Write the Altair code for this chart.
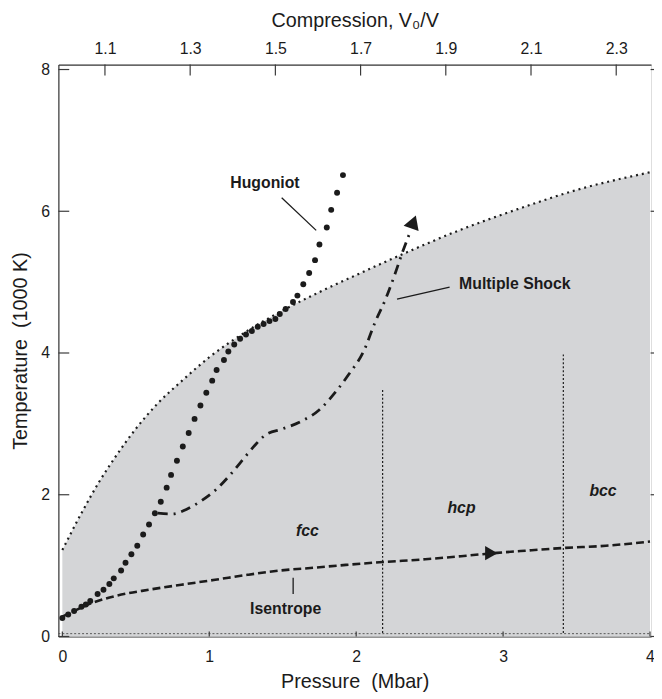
import altair as alt
import pandas as pd

# ---------------- data ----------------
melt_P = [0.0, 0.13, 0.25, 0.36, 0.50, 0.65, 0.81, 1.0, 1.25, 1.5, 1.75, 2.0, 2.3, 2.7, 3.1, 3.5, 4.0]
melt_T = [1.22, 1.74, 2.18, 2.53, 2.93, 3.29, 3.60, 3.94, 4.30, 4.60, 4.86, 5.10, 5.38, 5.73, 6.03, 6.30, 6.55]

hug_P = [0.00, 0.04, 0.08, 0.13, 0.16, 0.19, 0.24, 0.28, 0.32, 0.35, 0.40, 0.43, 0.47, 0.51,
         0.55, 0.59, 0.63, 0.67, 0.71, 0.74, 0.78, 0.82, 0.86, 0.90, 0.94, 0.98, 1.02, 1.05,
         1.10, 1.13, 1.17, 1.21, 1.25, 1.29, 1.33, 1.37, 1.41, 1.45, 1.48, 1.52, 1.57, 1.60,
         1.64, 1.68, 1.72, 1.75, 1.80, 1.83, 1.87, 1.91]
hug_T = [0.26, 0.31, 0.36, 0.42, 0.45, 0.50, 0.60, 0.66, 0.74, 0.82, 0.93, 1.04, 1.16, 1.28,
         1.44, 1.58, 1.74, 1.90, 2.10, 2.28, 2.48, 2.68, 2.87, 3.07, 3.26, 3.44, 3.61, 3.76,
         3.90, 4.02, 4.12, 4.20, 4.26, 4.31, 4.37, 4.41, 4.45, 4.48, 4.55, 4.62, 4.72, 4.81,
         4.97, 5.13, 5.31, 5.53, 5.77, 6.02, 6.26, 6.51]

ms_P = [0.65, 0.75, 0.85, 0.95, 1.05, 1.15, 1.25, 1.32, 1.38, 1.50, 1.62, 1.75, 1.86, 1.95,
        2.05, 2.13, 2.20, 2.26, 2.32, 2.37]
ms_T = [1.74, 1.73, 1.80, 1.92, 2.08, 2.30, 2.55, 2.72, 2.84, 2.93, 3.03, 3.20, 3.45, 3.70,
        4.02, 4.44, 4.76, 5.09, 5.45, 5.72]
ms_head_P = [2.39]
ms_head_T = [5.85]

isen_P = [0.0, 0.10, 0.20, 0.36, 0.59, 0.81, 1.04, 1.26, 1.48, 1.71, 1.93, 2.18, 2.47, 2.75,
          2.96, 3.15, 3.42, 3.70, 4.0]
isen_T = [0.28, 0.38, 0.47, 0.57, 0.66, 0.73, 0.80, 0.87, 0.93, 0.97, 1.01, 1.05, 1.09, 1.14,
          1.18, 1.21, 1.25, 1.28, 1.34]
isen_head_P = [2.92]
isen_head_T = [1.175]

phase_P = [2.18, 3.41]
phase_top = [3.48, 3.98]

label_text = ["Hugoniot", "Multiple Shock", "Isentrope"]
label_P = [1.379, 3.08, 1.52]
label_T = [6.40, 4.97, 0.385]

phase_text = ["fcc", "hcp", "bcc"]
phase_lab_P = [1.668, 2.717, 3.68]
phase_lab_T = [1.487, 1.81, 2.045]

lead_P1 = [1.493, 2.636, 1.571]
lead_T1 = [6.19, 4.93, 0.83]
lead_P2 = [1.728, 2.278, 1.571]
lead_T2 = [5.73, 4.76, 0.60]

P_ticks = [0, 1, 2, 3, 4]
T_ticks = [0, 2, 4, 6, 8]
comp_ticks = [1.1, 1.3, 1.5, 1.7, 1.9, 2.1, 2.3]

# ---------------- scales ----------------
P_DOM = [-0.027, 4.007]
T_DOM = [0, 8.07]
# compression axis: P = (c - 1) * 2.9
C_DOM = [1 + P_DOM[0] / 2.9, 1 + P_DOM[1] / 2.9]

FONT = "Liberation Sans"
INK = "#1b1b1b"
AX = "#3a3a3a"

xs = alt.Scale(domain=P_DOM, nice=False, zero=False)
ys = alt.Scale(domain=T_DOM, nice=False, zero=False)

X_AXIS = alt.Axis(
    orient="bottom", values=P_ticks, ticks=False, labelFont=FONT, labelFontSize=16,
    labelColor=INK, labelPadding=12, domainColor=AX, domainWidth=1.2,
    title="Pressure \u00a0(Mbar)", titleFont=FONT, titleFontSize=20, titleFontWeight="normal",
    titleColor=INK, titlePadding=8, grid=False)
Y_AXIS = alt.Axis(
    orient="left", values=T_ticks, ticks=False, labelFont=FONT, labelFontSize=16,
    labelColor=INK, labelPadding=9, domainColor=AX, domainWidth=1.2,
    title="Temperature \u00a0(1000 K)", titleFont=FONT, titleFontSize=20,
    titleFontWeight="normal", titleColor=INK, titlePadding=10, grid=False)


def X(f="P"):
    return alt.X(f"{f}:Q", scale=xs, axis=X_AXIS)


def Y(f="T"):
    return alt.Y(f"{f}:Q", scale=ys, axis=Y_AXIS)


melt = pd.DataFrame({"P": melt_P, "T": melt_T})
hug = pd.DataFrame({"P": hug_P, "T": hug_T})
ms = pd.DataFrame({"P": ms_P, "T": ms_T, "o": list(range(len(ms_P)))})
isen = pd.DataFrame({"P": isen_P, "T": isen_T, "o": list(range(len(isen_P)))})

area = alt.Chart(melt).mark_area(color="#d4d5d7", opacity=1, interpolate="monotone").encode(
    x=X(), y=Y(), y2=alt.datum(0))

melt_line = alt.Chart(melt).mark_line(color=INK, strokeWidth=2.2, strokeDash=[2, 4],
                                      interpolate="monotone").encode(x=X(), y=Y())

bottom_dotted = alt.Chart(pd.DataFrame({"P1": [P_DOM[0]], "P2": [P_DOM[1]], "T": [0.04]})).mark_rule(
    color="#555555", strokeWidth=1, strokeDash=[2, 2]).encode(
    x=X("P1"), x2="P2:Q", y=Y())

phase_lines = alt.Chart(pd.DataFrame({"P": phase_P, "T2": phase_top})).transform_calculate(
    y0="0.05").mark_rule(color=INK, strokeWidth=1.2, strokeDash=[2, 2]).encode(
    x=X(), y=Y("y0"), y2="T2:Q")

isen_line = alt.Chart(isen).mark_line(color=INK, strokeWidth=2.6, strokeDash=[8, 4],
                                      interpolate="monotone").encode(x=X(), y=Y(), order="o:Q")
isen_head = alt.Chart(pd.DataFrame({"P": isen_head_P, "T": isen_head_T})).mark_point(
    shape="triangle-right", filled=True, color=INK, opacity=1, size=210).encode(x=X(), y=Y())

ms_line = alt.Chart(ms).mark_line(color=INK, strokeWidth=2.8, strokeDash=[10, 6, 2, 6],
                                  interpolate="monotone").encode(x=X(), y=Y(), order="o:Q")
ms_head = alt.Chart(pd.DataFrame({"P": ms_head_P, "T": ms_head_T})).mark_point(
    shape="triangle-up", filled=True, color=INK, opacity=1, size=260, angle=20).encode(x=X(), y=Y())

hug_pts = alt.Chart(hug).mark_point(filled=True, color=INK, opacity=1, size=36, shape="circle").encode(
    x=X(), y=Y())

leaders = alt.Chart(pd.DataFrame({"P1": lead_P1, "T1": lead_T1, "P2": lead_P2, "T2": lead_T2})).mark_rule(
    color=INK, strokeWidth=1.3).encode(x=X("P1"), y=Y("T1"), x2="P2:Q", y2="T2:Q")

labels = alt.Chart(pd.DataFrame({"P": label_P, "T": label_T, "t": label_text})).mark_text(
    font=FONT, fontSize=16, fontWeight="bold", color=INK, align="center", baseline="middle").encode(
    x=X(), y=Y(), text="t:N")

phase_labels = alt.Chart(pd.DataFrame({"P": phase_lab_P, "T": phase_lab_T, "t": phase_text})).mark_text(
    font=FONT, fontSize=16, fontWeight="bold", fontStyle="italic", color=INK, align="center",
    baseline="middle").encode(x=X(), y=Y(), text="t:N")

# inward tick marks on left and bottom, outward on right
left_ticks = alt.Chart(pd.DataFrame({"T": T_ticks})).transform_calculate(
    a=str(P_DOM[0]), b=str(P_DOM[0] + 0.074)).mark_rule(color=AX, strokeWidth=1.2).encode(
    x=X("a"), x2="b:Q", y=Y())
bottom_ticks = alt.Chart(pd.DataFrame({"P": P_ticks})).transform_calculate(
    a="0", b="0.07").mark_rule(color=AX, strokeWidth=1.2).encode(
    x=X(), y=Y("a"), y2="b:Q")
right_ticks = alt.Chart(pd.DataFrame({"T": T_ticks})).transform_calculate(
    a=str(P_DOM[1] - 0.003), b=str(P_DOM[1] + 0.06)).mark_rule(color=AX, strokeWidth=1.2).encode(
    x=X("a"), x2="b:Q", y=Y())

main = alt.layer(area, bottom_dotted, phase_lines, melt_line, isen_line, isen_head, ms_line,
                 ms_head, hug_pts, leaders, labels, phase_labels, left_ticks, bottom_ticks,
                 right_ticks)

# top compression axis with inward ticks
top = alt.Chart(pd.DataFrame({"c": comp_ticks})).transform_calculate(
    a=str(T_DOM[1]), b=str(T_DOM[1] - 0.155)).mark_rule(color=AX, strokeWidth=1.2).encode(
    x=alt.X("c:Q", scale=alt.Scale(domain=C_DOM, nice=False, zero=False), axis=alt.Axis(
        orient="top", values=comp_ticks, format=".1f", ticks=False, labelFont=FONT,
        labelFontSize=16, labelColor=INK, labelPadding=8, domainColor=AX, domainWidth=1.2,
        title="Compression, V\u2080/V", titleFont=FONT, titleFontSize=20,
        titleFontWeight="normal", titleColor=INK, titlePadding=11, grid=False)),
    y=Y("a"), y2="b:Q")

chart = alt.layer(main, top).resolve_scale(x="independent").properties(
    width=600, height=579,
    autosize=alt.AutoSizeParams(type="none"),
    padding={"left": 51, "top": 53, "right": 3, "bottom": 56},
).configure_view(stroke=None).configure(background="white")

chart.save("out.html", embed_options={"renderer": "svg", "actions": False})
